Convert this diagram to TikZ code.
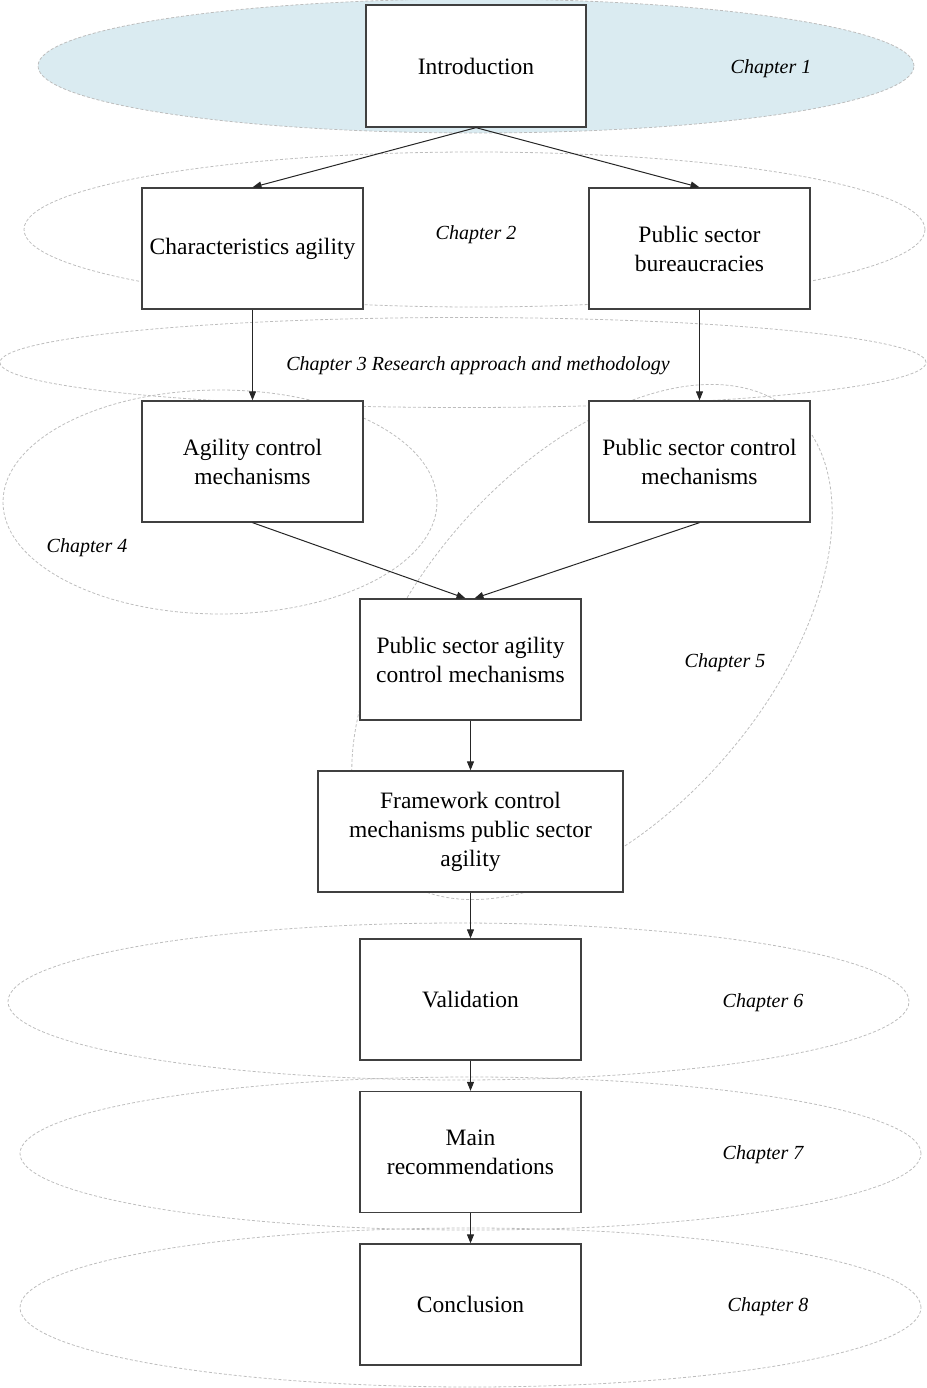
\documentclass[tikz,border=0pt]{standalone}
\usepackage{fontspec}
\setmainfont{Liberation Serif}
\usetikzlibrary{arrows.meta}
\definecolor{chapfill}{HTML}{DAEBF1}
\definecolor{chapline}{HTML}{BDBDBD}
\definecolor{boxline}{HTML}{404040}

\begin{document}
\begin{tikzpicture}[x=1pt,y=1pt,
  stagebox/.style={draw=boxline, line width=1.3pt, fill=white,
    minimum width=221pt, minimum height=121pt, inner sep=0pt,
    align=center, font=\fontsize{23.5}{29}\selectfont},
  chapring/.style={draw=chapline, dash pattern=on 3pt off 2pt, line width=0.8pt},
  chaplabel/.style={inner sep=0pt, font=\fontsize{20}{24}\selectfont\itshape},
  flow/.style={draw=black!85, line width=1pt, -{Triangle[length=9pt,width=7pt]}}]

\useasboundingbox (0,0) rectangle (926,-1388);

% chapter regions
\draw[chapring, fill=chapfill] (476,-66) ellipse [x radius=438, y radius=67];
\draw[chapring] (474.5,-229.5) ellipse [x radius=450.5, y radius=77.5];
\draw[chapring] (463,-362.5) ellipse [x radius=463, y radius=45];
\draw[chapring] (220,-502) ellipse [x radius=217, y radius=112];
\draw[chapring, rotate around={49:(592,-642)}] (592,-642) ellipse [x radius=305, y radius=176];
\draw[chapring] (458.5,-1001.5) ellipse [x radius=450.5, y radius=78.5];
\draw[chapring] (470.5,-1153.5) ellipse [x radius=450.5, y radius=76.5];
\draw[chapring] (470.5,-1307.5) ellipse [x radius=450.5, y radius=79.5];

% chapter labels
\node[chaplabel] (c1) at (771,-69) {Chapter 1};
\node[chaplabel] (c2) at (476,-235) {Chapter 2};
\node[chaplabel] (c3) at (478,-366) {Chapter 3 Research approach and methodology};
\node[chaplabel] (c4) at (87,-548) {Chapter 4};
\node[chaplabel] (c5) at (725,-663) {Chapter 5};
\node[chaplabel] (c6) at (763,-1003) {Chapter 6};
\node[chaplabel] (c7) at (763,-1155) {Chapter 7};
\node[chaplabel] (c8) at (768,-1307) {Chapter 8};

% stages
\node[stagebox, minimum width=220pt, minimum height=122pt] (intro) at (476,-66) {Introduction};
\node[stagebox] (charag) at (252.5,-248.5) {Characteristics agility};
\node[stagebox] (psbur) at (699.5,-248.5) {Public sector\\bureaucracies};
\node[stagebox] (agctrl) at (252.5,-461.5) {Agility control\\mechanisms};
\node[stagebox] (psctrl) at (699.5,-461.5) {Public sector control\\mechanisms};
\node[stagebox] (psag) at (470.5,-659.5) {Public sector agility\\control mechanisms};
\node[stagebox, minimum width=305pt] (frame) at (470.5,-831.5) {Framework control\\mechanisms public sector\\agility};
\node[stagebox] (valid) at (470.5,-999.5) {Validation};
\node[stagebox] (recom) at (470.5,-1152) {Main\\recommendations};
\node[stagebox] (concl) at (470.5,-1304.5) {Conclusion};

% connectors
\draw[flow] (intro.south) -- (charag.north);
\draw[flow] (intro.south) -- (psbur.north);
\draw[flow] (charag.south) -- (agctrl.north);
\draw[flow] (psbur.south) -- (psctrl.north);
\draw[flow] (agctrl.south) -- ([xshift=-5pt]psag.north);
\draw[flow] (psctrl.south) -- ([xshift=4pt]psag.north);
\draw[flow] (psag.south) -- (frame.north);
\draw[flow] (frame.south) -- (valid.north);
\draw[flow] (valid.south) -- (recom.north);
\draw[flow] (recom.south) -- (concl.north);
\end{tikzpicture}
\end{document}
